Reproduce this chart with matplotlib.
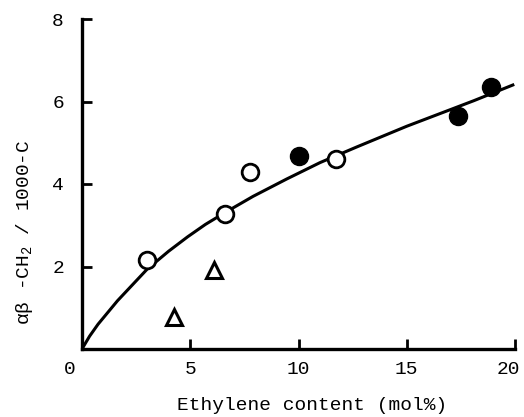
import matplotlib
matplotlib.use('Agg')
import matplotlib.pyplot as plt
from matplotlib.transforms import ScaledTranslation

plt.rcParams['font.family'] = ['Liberation Mono', 'DejaVu Sans']
plt.rcParams['mathtext.fontset'] = 'custom'
plt.rcParams['mathtext.rm'] = 'Liberation Mono'
plt.rcParams['mathtext.it'] = 'Liberation Mono'

# open circles
x_open = [3.0, 6.6, 7.75, 11.75]
y_open = [2.15, 3.27, 4.3, 4.61]
# filled circles
x_fill = [10.0, 17.35, 18.9]
y_fill = [4.69, 5.66, 6.36]
# triangles
x_tri = [4.25, 6.1]
y_tri = [0.78, 1.92]
# fitted curve
x_fit = [0, 0.35, 0.74, 1.64, 2.57, 3.0, 4.0, 4.88, 5.7, 6.58, 7.9, 9.45, 11.0, 12.7, 15.0, 18.1, 19.9]
y_fit = [0, 0.31, 0.6, 1.17, 1.69, 1.93, 2.37, 2.72, 3.02, 3.3, 3.7, 4.12, 4.52, 4.9, 5.4, 6.02, 6.4]

xticks = [0, 5, 10, 15, 20]
yticks = [2, 4, 6, 8]

fig = plt.figure(figsize=(5.24, 4.17), dpi=100)
ax = fig.add_axes([82/524, 1-349/417, (515-82)/524, (349-19)/417])

ax.plot(x_fit, y_fit, color='black', lw=2.2, zorder=2, solid_joinstyle='round')
ax.plot(x_open, y_open, 'o', ms=12, mfc='white', mec='black', mew=2, zorder=3)
ax.plot(x_fill, y_fill, 'o', ms=13, mfc='black', mec='black', zorder=3)
ax.plot(x_tri, y_tri, '^', ms=12, mfc='white', mec='black', mew=2.2, zorder=3)

ax.set_xlim(0, 20)
ax.set_ylim(0, 8)
ax.set_xticks(xticks)
ax.set_yticks(yticks)
ax.tick_params(direction='in', length=7, width=2, labelsize=14)
ax.tick_params(axis='x', pad=9)
ax.tick_params(axis='y', pad=13)
for s in ['top', 'right']:
    ax.spines[s].set_visible(False)
for s in ['left', 'bottom']:
    ax.spines[s].set_linewidth(2.4)

# nudge the end labels left like the original
labels = ax.get_xticklabels()
labels[0].set_transform(labels[0].get_transform() + ScaledTranslation(-12/100, 0, fig.dpi_scale_trans))
labels[-1].set_transform(labels[-1].get_transform() + ScaledTranslation(-7/100, 0, fig.dpi_scale_trans))

fig.text(312/524, 1-405/417, 'Ethylene content (mol%)', ha='center', va='center', fontsize=14)
fig.text(25/524, 1-232/417, 'αβ -CH$_2$ / 1000-C', ha='center', va='center',
         rotation=90, fontsize=14)

fig.savefig('out.png', dpi=100)
